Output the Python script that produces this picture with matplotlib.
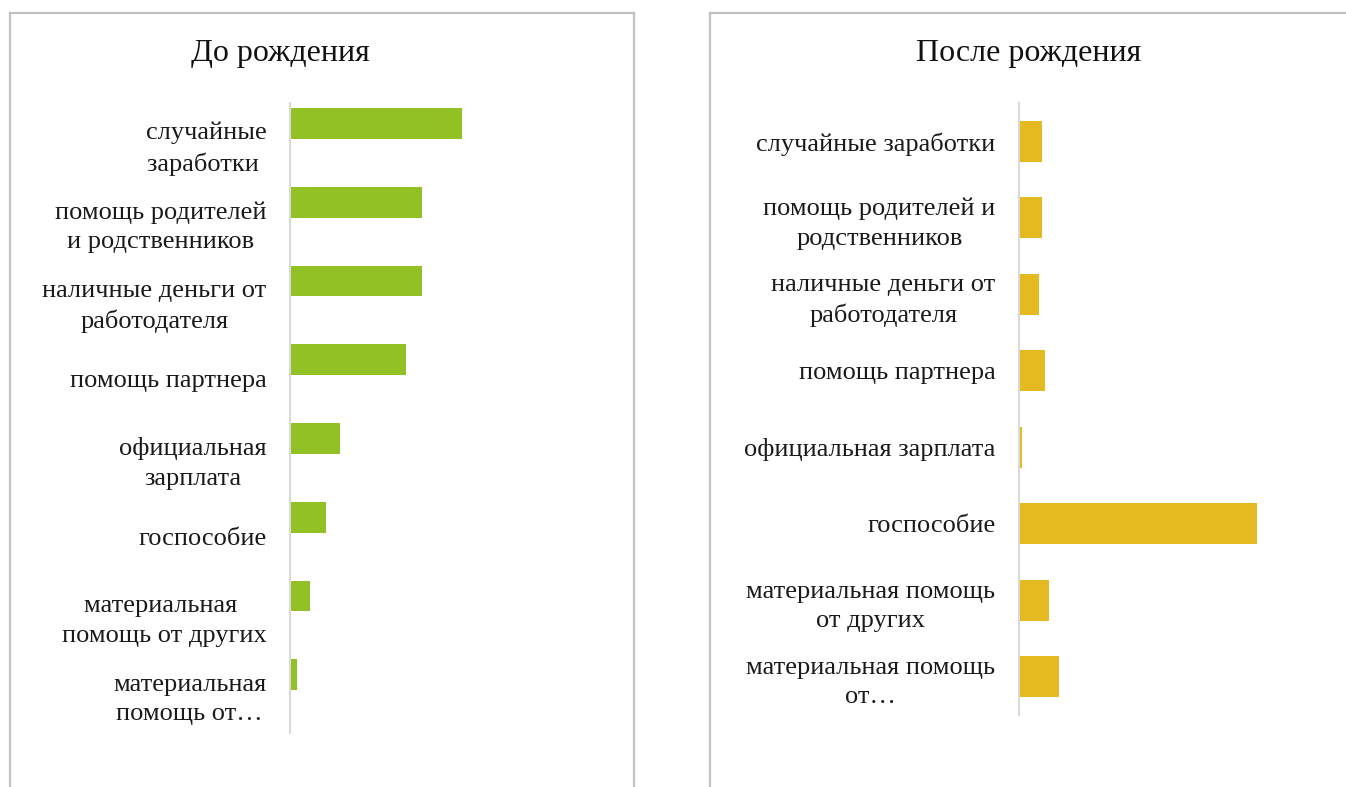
import matplotlib
matplotlib.use("Agg")
import matplotlib.pyplot as plt
from matplotlib.lines import Line2D

plt.rcParams['font.family'] = ['Liberation Serif', 'DejaVu Serif']

left_title = "До рождения"
right_title = "После рождения"

left_labels = ["случайные\nзаработки ", "помощь родителей\nи родственников",
               "наличные деньги от\nработодателя", "помощь партнера",
               "официальная\nзарплата", "госпособие",
               "материальная \nпомощь от других", "материальная\nпомощь от…"]
left_values = [52, 40, 40, 35, 15, 11, 6, 2]

right_labels = ["случайные заработки", "помощь родителей и\nродственников",
                "наличные деньги от\nработодателя", "помощь партнера",
                "официальная зарплата", "госпособие",
                "материальная помощь\nот других", "материальная помощь\nот…"]
right_values = [7, 7, 6, 8, 1, 72, 9, 12]

W, H = 1346, 787
fig = plt.figure(figsize=(W / 100, H / 100), dpi=100)

def fx(px):
    return px / W

def fy(py):
    return 1 - py / H

# panel borders
border = dict(color="#c0c0c0", linewidth=1.6, transform=fig.transFigure)
for x0, x1 in [(10, 634), (710, 1350)]:
    fig.add_artist(Line2D([fx(x0), fx(x1)], [fy(13), fy(13)], **border))
    fig.add_artist(Line2D([fx(x0), fx(x0)], [fy(13), fy(800)], **border))
    if x1 < W:
        fig.add_artist(Line2D([fx(x1), fx(x1)], [fy(13), fy(800)], **border))

green = "#92C125"
yellow = "#E5B920"

axL = fig.add_axes([fx(290), fy(733), fx(330), (733 - 103) / H])
axR = fig.add_axes([fx(1019), fy(715), fx(311), (715 - 103) / H])

posL = list(range(len(left_labels)))
axL.barh([p - 0.24 for p in posL], left_values, height=0.39, color=green)
axL.set_xlim(0, 100)
axL.set_ylim(len(posL) - 0.5, -0.5)
axL.set_yticks(posL)
axL.set_yticklabels(left_labels, multialignment="center")

posR = list(range(len(right_labels)))
axR.barh(posR, right_values, height=0.54, color=yellow)
axR.set_xlim(0, 311 / 3.3)
axR.set_ylim(len(posR) - 0.5, -0.5)
axR.set_yticks(posR)
axR.set_yticklabels(right_labels, multialignment="center")

for ax in (axL, axR):
    for s in ("top", "right", "bottom"):
        ax.spines[s].set_visible(False)
    ax.spines["left"].set_color("#d9d9d9")
    ax.spines["left"].set_linewidth(1.5)
    ax.set_xticks([])
    ax.tick_params(axis="y", length=0, pad=17, labelsize=19, labelcolor="#1a1a1a")
    for t in ax.get_yticklabels():
        t.set_linespacing(1.42)

fig.text(fx(280), fy(53), left_title, ha="center", va="center", fontsize=23, color="#111111")
fig.text(fx(1029), fy(53), right_title, ha="center", va="center", fontsize=23, color="#111111")

fig.savefig("out.png", dpi=100, facecolor="white")
